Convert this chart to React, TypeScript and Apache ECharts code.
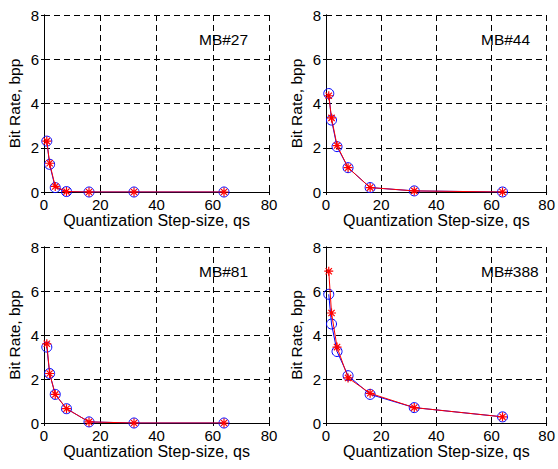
import React, { useEffect, useRef } from "react";
import * as echarts from "echarts";

const qs = [1, 2, 4, 8, 16, 32, 64];
const panelLabels = ["MB#27", "MB#44", "MB#81", "MB#388"];
const blueSeries = [
  [2.3, 1.25, 0.2, 0.02, 0, 0, 0],
  [4.45, 3.25, 2.05, 1.1, 0.2, 0.05, 0],
  [3.45, 2.25, 1.3, 0.65, 0.05, 0, 0],
  [5.85, 4.5, 3.25, 2.15, 1.3, 0.7, 0.28],
];
const redSeries = [
  [2.3, 1.3, 0.25, 0.02, 0, 0, 0],
  [4.35, 3.35, 2.1, 1.1, 0.2, 0.05, 0],
  [3.6, 2.25, 1.3, 0.65, 0.05, 0, 0],
  [6.9, 5.0, 3.45, 2.05, 1.35, 0.7, 0.28],
];
const xTicks = [0, 20, 40, 60, 80];
const yTicks = [0, 2, 4, 6, 8];

const FONT = "Arial";
const STAR =
  "path://M5,0L5,10M0,5L10,5M1.5,1.5L8.5,8.5M1.5,8.5L8.5,1.5";

export default function App() {
  const ref = useRef<HTMLDivElement>(null);
  useEffect(() => {
    if (!ref.current) return;
    const chart = echarts.init(ref.current, null, { renderer: "svg" });
    const grids = [
      { left: 44, top: 15, width: 225, height: 177 },
      { left: 326, top: 15, width: 225, height: 177 },
      { left: 44, top: 247, width: 225, height: 176 },
      { left: 326, top: 247, width: 225, height: 176 },
    ];
    const xAxes: any[] = [];
    const yAxes: any[] = [];
    const series: any[] = [];
    const graphics: any[] = [];
    grids.forEach((g, i) => {
      xAxes.push({
        gridIndex: i,
        type: "value",
        min: xTicks[0],
        max: xTicks[xTicks.length - 1],
        interval: 20,
        position: "bottom",
        name: "Quantization Step-size, qs",
        nameLocation: "middle",
        nameGap: 20,
        nameTextStyle: { color: "#000", fontFamily: FONT, fontSize: 16, verticalAlign: "top" },
        axisLine: { show: true, lineStyle: { color: "#000", width: 1 } },
        axisTick: { show: true, inside: true, length: 3, lineStyle: { color: "#000" } },
        axisLabel: { color: "#000", fontFamily: FONT, fontSize: 15, margin: 5 },
        splitLine: { show: true, lineStyle: { color: "#000", type: [6, 4], width: 1 } },
      });
      xAxes.push({
        gridIndex: i,
        type: "value",
        min: 0,
        max: 80,
        interval: 20,
        position: "top",
        axisLine: { show: true, lineStyle: { color: "#000", width: 1 } },
        axisTick: { show: true, inside: true, length: 3, lineStyle: { color: "#000" } },
        axisLabel: { show: false },
        splitLine: { show: false },
      });
      yAxes.push({
        gridIndex: i,
        type: "value",
        min: yTicks[0],
        max: yTicks[yTicks.length - 1],
        interval: 2,
        position: "left",
        name: "Bit Rate, bpp",
        nameLocation: "middle",
        nameGap: 22,
        nameTextStyle: { color: "#000", fontFamily: FONT, fontSize: 15.5 },
        axisLine: { show: true, lineStyle: { color: "#000", width: 1 } },
        axisTick: { show: true, inside: true, length: 3, lineStyle: { color: "#000" } },
        axisLabel: { color: "#000", fontFamily: FONT, fontSize: 15, margin: 5 },
        splitLine: { show: true, lineStyle: { color: "#000", type: [6, 4], width: 1 } },
      });
      yAxes.push({
        gridIndex: i,
        type: "value",
        min: 0,
        max: 8,
        interval: 2,
        position: "right",
        axisLine: { show: true, lineStyle: { color: "#000", width: 1 } },
        axisTick: { show: true, inside: true, length: 3, lineStyle: { color: "#000" } },
        axisLabel: { show: false },
        splitLine: { show: false },
      });
      series.push({
        type: "line",
        xAxisIndex: i * 2,
        yAxisIndex: i * 2,
        data: qs.map((x, k) => [x, blueSeries[i][k]]),
        symbol: "circle",
        symbolSize: 10,
        lineStyle: { color: "#0000ff", width: 1 },
        itemStyle: { color: "rgba(255,255,255,0)", borderColor: "#0000ff", borderWidth: 1 },
        z: 3,
      });
      series.push({
        type: "line",
        xAxisIndex: i * 2,
        yAxisIndex: i * 2,
        data: qs.map((x, k) => [x, redSeries[i][k]]),
        symbol: STAR,
        symbolSize: 9,
        lineStyle: { color: "#ff0000", width: 1 },
        itemStyle: { color: "rgba(255,255,255,0)", borderColor: "#ff0000", borderWidth: 1.2 },
        z: 4,
      });
      graphics.push({
        type: "text",
        x: g.left + 155,
        y: g.top + 24,
        style: {
          text: panelLabels[i],
          fill: "#000",
          font: `15.5px ${FONT}`,
          verticalAlign: "middle",
        },
      });
    });
    chart.setOption({
      animation: false,
      backgroundColor: "#fff",
      grid: grids.map((g) => ({ ...g, containLabel: false })),
      xAxis: xAxes,
      yAxis: yAxes,
      series,
      graphic: graphics,
    });
    return () => chart.dispose();
  }, []);
  return (
    <div
      ref={ref}
      style={{ position: "fixed", left: 0, top: 0, width: 558, height: 469 }}
    />
  );
}
